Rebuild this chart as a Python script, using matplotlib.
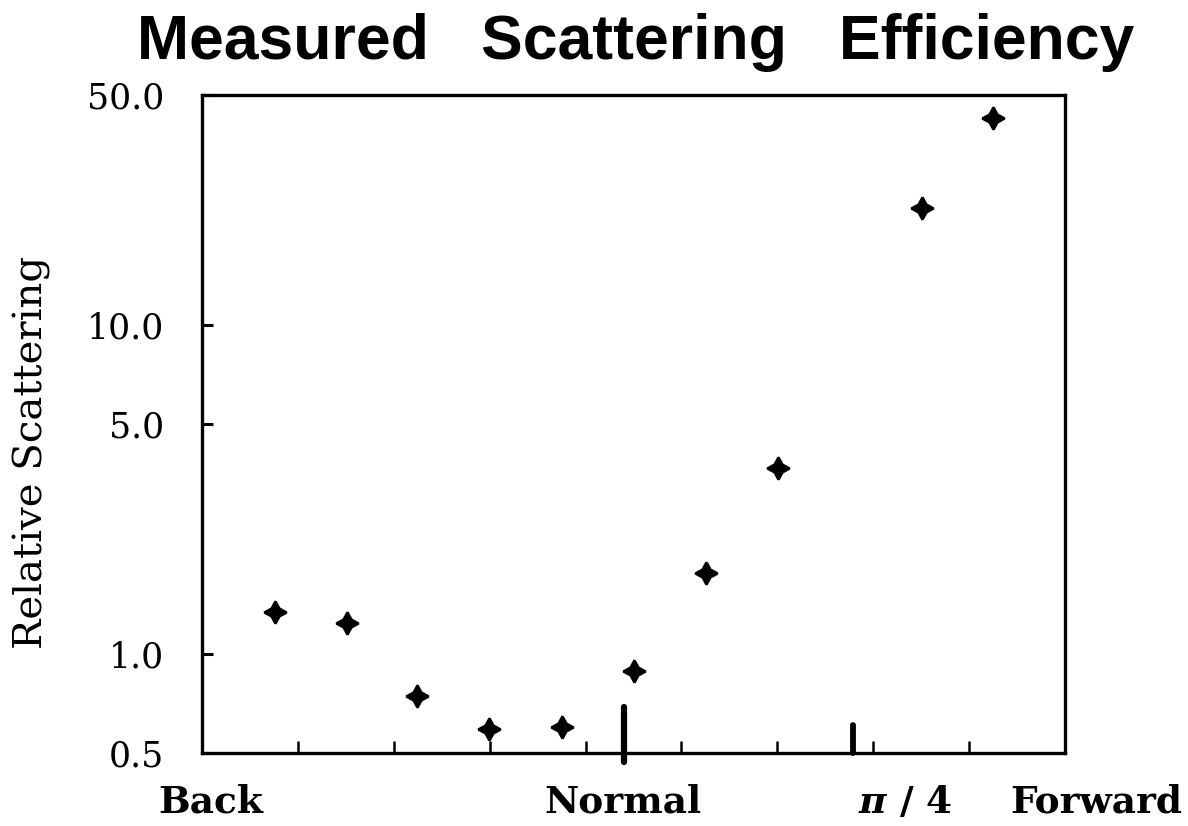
import matplotlib.pyplot as plt
from matplotlib.ticker import NullLocator

plt.rcParams['mathtext.fontset'] = 'dejavuserif'

# measured points (angle in axis units, relative scattering)
angle = [0.76, 1.51, 2.24, 2.99, 3.75, 4.51, 5.26, 6.01, 7.51, 8.25]
scatter = [1.34, 1.24, 0.745, 0.59, 0.60, 0.89, 1.76, 3.67, 22.7, 42.6]

ytick_vals = [0.5, 1.0, 5.0, 10.0, 50.0]
ytick_text = ['0.5', '1.0', '5.0', '10.0', '50.0']

xlabel_pos = [0.09, 4.39, 7.33, 9.33]
xlabel_text = ['Back', 'Normal', r'$\boldsymbol{\pi}$ / 4', 'Forward']

normal_x = 4.40
quarter_x = 6.79

serif = 'DejaVu Serif'

fig = plt.figure(figsize=(11.88, 8.26), dpi=100)
ax = fig.add_axes([0.170, 0.0884, 0.7265, 0.7966])

ax.plot(angle, scatter, linestyle='none', marker=(4, 1, 0),
        markersize=16, color='black', markeredgewidth=1.8)

# reference marks for normal incidence and pi/4
ax.plot([normal_x, normal_x], [0.47, 0.69], color='black', lw=4.5,
        solid_capstyle='round', clip_on=False)
ax.plot([quarter_x, quarter_x], [0.5, 0.61], color='black', lw=4.2,
        solid_capstyle='round', clip_on=False)

ax.set_yscale('log')
ax.set_ylim(0.5, 50)
ax.set_xlim(0, 9)
ax.set_yticks(ytick_vals)
ax.set_yticklabels(ytick_text, fontsize=25, family=serif)
ax.yaxis.set_minor_locator(NullLocator())
ax.tick_params(axis='y', direction='in', length=8, width=2.2, pad=27)

ax.set_xticks(range(1, 9))
ax.set_xticklabels([])
ax.tick_params(axis='x', direction='in', length=9, width=1.8)

for s in ax.spines.values():
    s.set_linewidth(2.4)

for pos, txt in zip(xlabel_pos, xlabel_text):
    ax.text(pos, -0.075, txt, transform=ax.get_xaxis_transform(),
            ha='center', va='center', fontsize=27, family=serif,
            fontweight='bold', clip_on=False)

ax.set_ylabel('Relative Scattering', fontsize=29, family=serif, va='center')
ax.yaxis.set_label_coords(-0.197, 0.457)

fig.text(0.535, 0.948, 'Measured   Scattering   Efficiency', ha='center',
         va='center', fontsize=45, fontweight='bold', family='Liberation Sans')

fig.savefig('out.png', dpi=100)
